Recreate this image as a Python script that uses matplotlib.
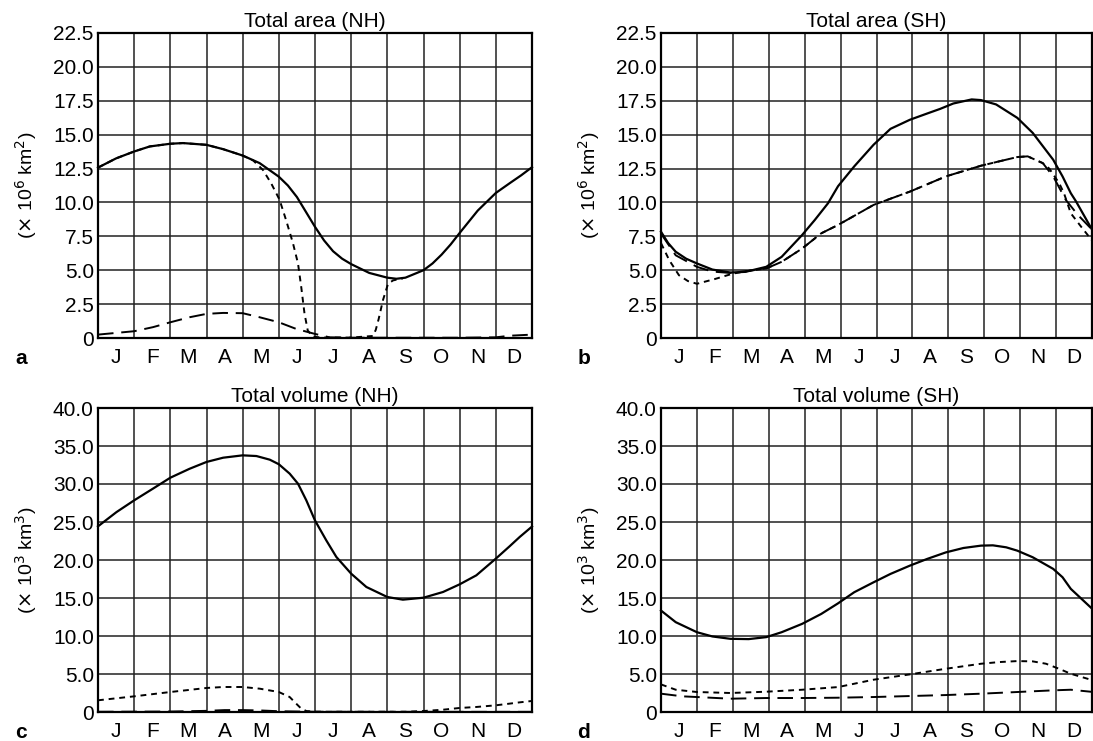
import matplotlib
matplotlib.use("Agg")
import matplotlib.pyplot as plt

plt.rcParams['font.family'] = ['Liberation Sans', 'DejaVu Sans']

months = ["J", "F", "M", "A", "M", "J", "J", "A", "S", "O", "N", "D"]

# a: total area NH (x in months from 1 Jan)
a_solid_x = [0, 0.5, 1, 1.43, 2, 2.35, 3, 3.46, 4, 4.47, 5, 5.25, 5.5, 5.75, 6, 6.25, 6.5, 6.75, 7, 7.5, 8, 8.25, 8.5, 9, 9.25, 9.5, 9.75, 10, 10.5, 11, 11.4, 11.7, 12]
a_solid_y = [12.57, 13.25, 13.76, 14.13, 14.33, 14.38, 14.25, 13.93, 13.46, 12.9, 11.9, 11.25, 10.4, 9.3, 8.2, 7.2, 6.4, 5.85, 5.45, 4.8, 4.45, 4.37, 4.45, 5.0, 5.5, 6.15, 6.9, 7.75, 9.4, 10.7, 11.45, 12.0, 12.6]
a_dot_x = [0, 0.5, 1, 1.43, 2, 2.35, 3, 3.46, 4, 4.29, 4.56, 4.79, 5.02, 5.2, 5.39, 5.53, 5.62, 5.71, 5.8, 5.94, 6.2, 7.0, 7.6, 7.68, 7.76, 7.88, 8.02, 8.16, 8.43]
a_dot_y = [12.57, 13.25, 13.76, 14.13, 14.33, 14.38, 14.25, 13.93, 13.46, 13.1, 12.4, 11.4, 10.2, 8.7, 7.0, 5.5, 3.75, 1.8, 0.55, 0.1, 0.03, 0.03, 0.15, 0.6, 1.4, 2.8, 4.0, 4.25, 4.4]
a_dash_x = [0, 1, 1.52, 2, 2.53, 3, 3.46, 4, 4.47, 5, 5.48, 6, 6.4, 7, 8, 9, 10, 11, 11.4, 12]
a_dash_y = [0.25, 0.5, 0.8, 1.16, 1.53, 1.78, 1.85, 1.83, 1.53, 1.16, 0.67, 0.3, 0.05, 0.02, 0.02, 0.02, 0.02, 0.05, 0.17, 0.25]

# b: total area SH
b_solid_x = [0, 0.2, 0.41, 0.7, 1, 1.43, 1.93, 2.35, 2.93, 3.36, 3.93, 4.28, 4.65, 4.93, 5.38, 5.92, 6.39, 6.93, 7.41, 7.77, 8.14, 8.65, 8.91, 9.33, 9.92, 10.35, 10.92, 11.18, 11.41, 11.55, 12]
b_solid_y = [7.84, 7.0, 6.36, 5.85, 5.5, 5.05, 4.83, 4.88, 5.25, 5.99, 7.6, 8.7, 9.94, 11.2, 12.66, 14.26, 15.43, 16.1, 16.56, 16.9, 17.3, 17.6, 17.55, 17.23, 16.24, 15.13, 13.15, 11.92, 10.68, 10.1, 8.0]
b_dash_x = [0, 0.41, 1, 1.43, 1.93, 2.44, 2.93, 3.36, 3.93, 4.46, 4.93, 5.92, 6.93, 7.93, 8.91, 9.92, 10.21, 10.63, 10.92, 11.27, 11.6, 12]
b_dash_y = [7.7, 6.1, 5.25, 4.9, 4.8, 4.95, 5.13, 5.62, 6.6, 7.72, 8.34, 9.82, 10.8, 11.92, 12.71, 13.35, 13.4, 12.9, 11.92, 10.19, 9.1, 8.0]
b_dot_x = [0, 0.23, 0.5, 0.75, 1, 1.5, 2, 2.44, 2.93, 3.36, 3.93, 4.46, 4.93, 5.92, 6.93, 7.93, 8.91, 9.92, 10.21, 10.63, 10.81, 11.09, 11.22, 11.41, 11.7, 12]
b_dot_y = [7.0, 5.74, 4.63, 4.2, 4.0, 4.35, 4.75, 4.95, 5.13, 5.62, 6.6, 7.72, 8.34, 9.82, 10.8, 11.92, 12.71, 13.35, 13.4, 12.9, 12.5, 11.4, 10.68, 9.2, 8.2, 7.2]

# c: total volume NH
c_solid_x = [0, 0.51, 1, 1.52, 2, 2.53, 3, 3.46, 4, 4.38, 4.75, 5, 5.3, 5.53, 5.76, 6, 6.31, 6.59, 7, 7.42, 8, 8.43, 9, 9.54, 10, 10.46, 11, 11.38, 11.66, 12]
c_solid_y = [24.43, 26.3, 27.85, 29.39, 30.83, 32.0, 32.9, 33.46, 33.77, 33.68, 33.2, 32.6, 31.36, 30.04, 27.85, 25.2, 22.6, 20.4, 18.2, 16.45, 15.13, 14.78, 15.04, 15.79, 16.8, 17.98, 20.18, 21.8, 23.03, 24.4]
c_dot_x = [0, 1, 2, 3, 3.46, 4, 4.47, 5, 5.3, 5.48, 5.62, 5.76, 6, 7, 8, 8.53, 9, 9.54, 10, 10.46, 11, 11.38, 11.66, 12]
c_dot_y = [1.54, 2.06, 2.63, 3.16, 3.29, 3.29, 3.07, 2.63, 1.97, 1.1, 0.44, 0.13, 0.04, 0.03, 0.03, 0.03, 0.13, 0.3, 0.53, 0.66, 0.88, 1.1, 1.27, 1.45]
c_dash_x = [0, 2, 3, 3.5, 4, 4.5, 5, 6, 8, 10, 12]
c_dash_y = [0.03, 0.06, 0.15, 0.25, 0.25, 0.2, 0.1, 0.03, 0.02, 0.02, 0.02]

# d: total volume SH
d_solid_x = [0, 0.41, 1, 1.43, 1.93, 2.44, 2.93, 3.36, 3.93, 4.46, 4.93, 5.38, 5.92, 6.39, 6.93, 7.41, 7.93, 8.42, 8.91, 9.24, 9.61, 9.92, 10.35, 10.92, 11.18, 11.41, 12]
d_solid_y = [13.35, 11.82, 10.5, 9.94, 9.63, 9.59, 9.85, 10.5, 11.6, 12.9, 14.3, 15.76, 17.07, 18.17, 19.26, 20.14, 21.0, 21.58, 21.89, 21.93, 21.67, 21.23, 20.36, 18.83, 17.73, 16.2, 13.6]
d_dot_x = [0, 0.41, 1, 1.93, 2.93, 3.93, 4.93, 5.38, 5.92, 6.93, 7.93, 8.91, 9.42, 9.92, 10.35, 10.72, 11.08, 11.41, 12]
d_dot_y = [3.63, 2.93, 2.63, 2.5, 2.67, 2.93, 3.28, 3.72, 4.25, 4.95, 5.69, 6.35, 6.57, 6.7, 6.66, 6.35, 5.69, 5.03, 4.2]
d_dash_x = [0, 0.6, 1, 1.93, 2.93, 3.93, 4.93, 5.92, 6.93, 7.93, 8.91, 9.92, 10.92, 11.41, 12]
d_dash_y = [2.41, 2.06, 1.97, 1.75, 1.84, 1.84, 1.88, 1.97, 2.1, 2.23, 2.41, 2.63, 2.85, 2.93, 2.65]

area_ticks = [0, 2.5, 5, 7.5, 10, 12.5, 15, 17.5, 20, 22.5]
area_labels = ["0", "2.5", "5.0", "7.5", "10.0", "12.5", "15.0", "17.5", "20.0", "22.5"]
vol_ticks = [0, 5, 10, 15, 20, 25, 30, 35, 40]
vol_labels = ["0", "5.0", "10.0", "15.0", "20.0", "25.0", "30.0", "35.0", "40.0"]

W, H = 1093, 741
fig = plt.figure(figsize=(W / 100, H / 100), dpi=100)

area_unit = r"($\times$ 10$^6$ km$^2$)"
vol_unit = r"($\times$ 10$^3$ km$^3$)"

panels = [
    # letter, title, axes box in pixels (left, top, right, bottom), series, ticks
    ("a", "Total area (NH)", (98, 33, 532, 338),
     [(a_solid_x, a_solid_y, '-'), (a_dot_x, a_dot_y, ':'), (a_dash_x, a_dash_y, '--')],
     area_ticks, area_labels, 22.5, area_unit),
    ("b", "Total area (SH)", (661, 33, 1092, 338),
     [(b_solid_x, b_solid_y, '-'), (b_dot_x, b_dot_y, ':'), (b_dash_x, b_dash_y, '--')],
     area_ticks, area_labels, 22.5, area_unit),
    ("c", "Total volume (NH)", (98, 408, 532, 712),
     [(c_solid_x, c_solid_y, '-'), (c_dot_x, c_dot_y, ':'), (c_dash_x, c_dash_y, '--')],
     vol_ticks, vol_labels, 40, vol_unit),
    ("d", "Total volume (SH)", (661, 408, 1092, 712),
     [(d_solid_x, d_solid_y, '-'), (d_dot_x, d_dot_y, ':'), (d_dash_x, d_dash_y, '--')],
     vol_ticks, vol_labels, 40, vol_unit),
]

for letter, title, (l, t, r, b), series, yt, ylab, ymax, ylabel in panels:
    ax = fig.add_axes([l / W, 1 - b / H, (r - l) / W, (b - t) / H])
    for xs, ys, st in series:
        if st == '-':
            ax.plot(xs, ys, color='black', lw=1.6, zorder=3, clip_on=False)
        elif st == ':':
            ax.plot(xs, ys, color='black', lw=1.4, dashes=(3, 2.5), zorder=3, clip_on=False)
        else:
            ax.plot(xs, ys, color='black', lw=1.4, dashes=(8, 4), zorder=3, clip_on=False)
    ax.set_xlim(0, 12)
    ax.set_ylim(0, ymax)
    ax.set_xticks(range(13))
    ax.set_xticklabels([])
    ax.set_xticks([i + 0.5 for i in range(12)], minor=True)
    ax.set_xticklabels(months, minor=True, fontsize=15)
    ax.set_yticks(yt)
    ax.set_yticklabels(ylab, fontsize=15)
    ax.tick_params(which='both', length=0)
    ax.tick_params(axis='x', which='both', pad=7)
    ax.tick_params(axis='y', pad=3)
    ax.grid(True, which='major', color='#222222', lw=1.1)
    for s in ax.spines.values():
        s.set_linewidth(1.6)
    ax.set_title(title, fontsize=15, pad=4)
    fig.text((l - 72) / W, 1 - ((t + b) / 2) / H, ylabel, fontsize=14, rotation=90,
             ha='center', va='center')
    fig.text((l - 77) / W, 1 - (b + 21) / H, letter, fontsize=15, fontweight='bold',
             ha='center', va='center')

fig.savefig("out.png", dpi=100)
